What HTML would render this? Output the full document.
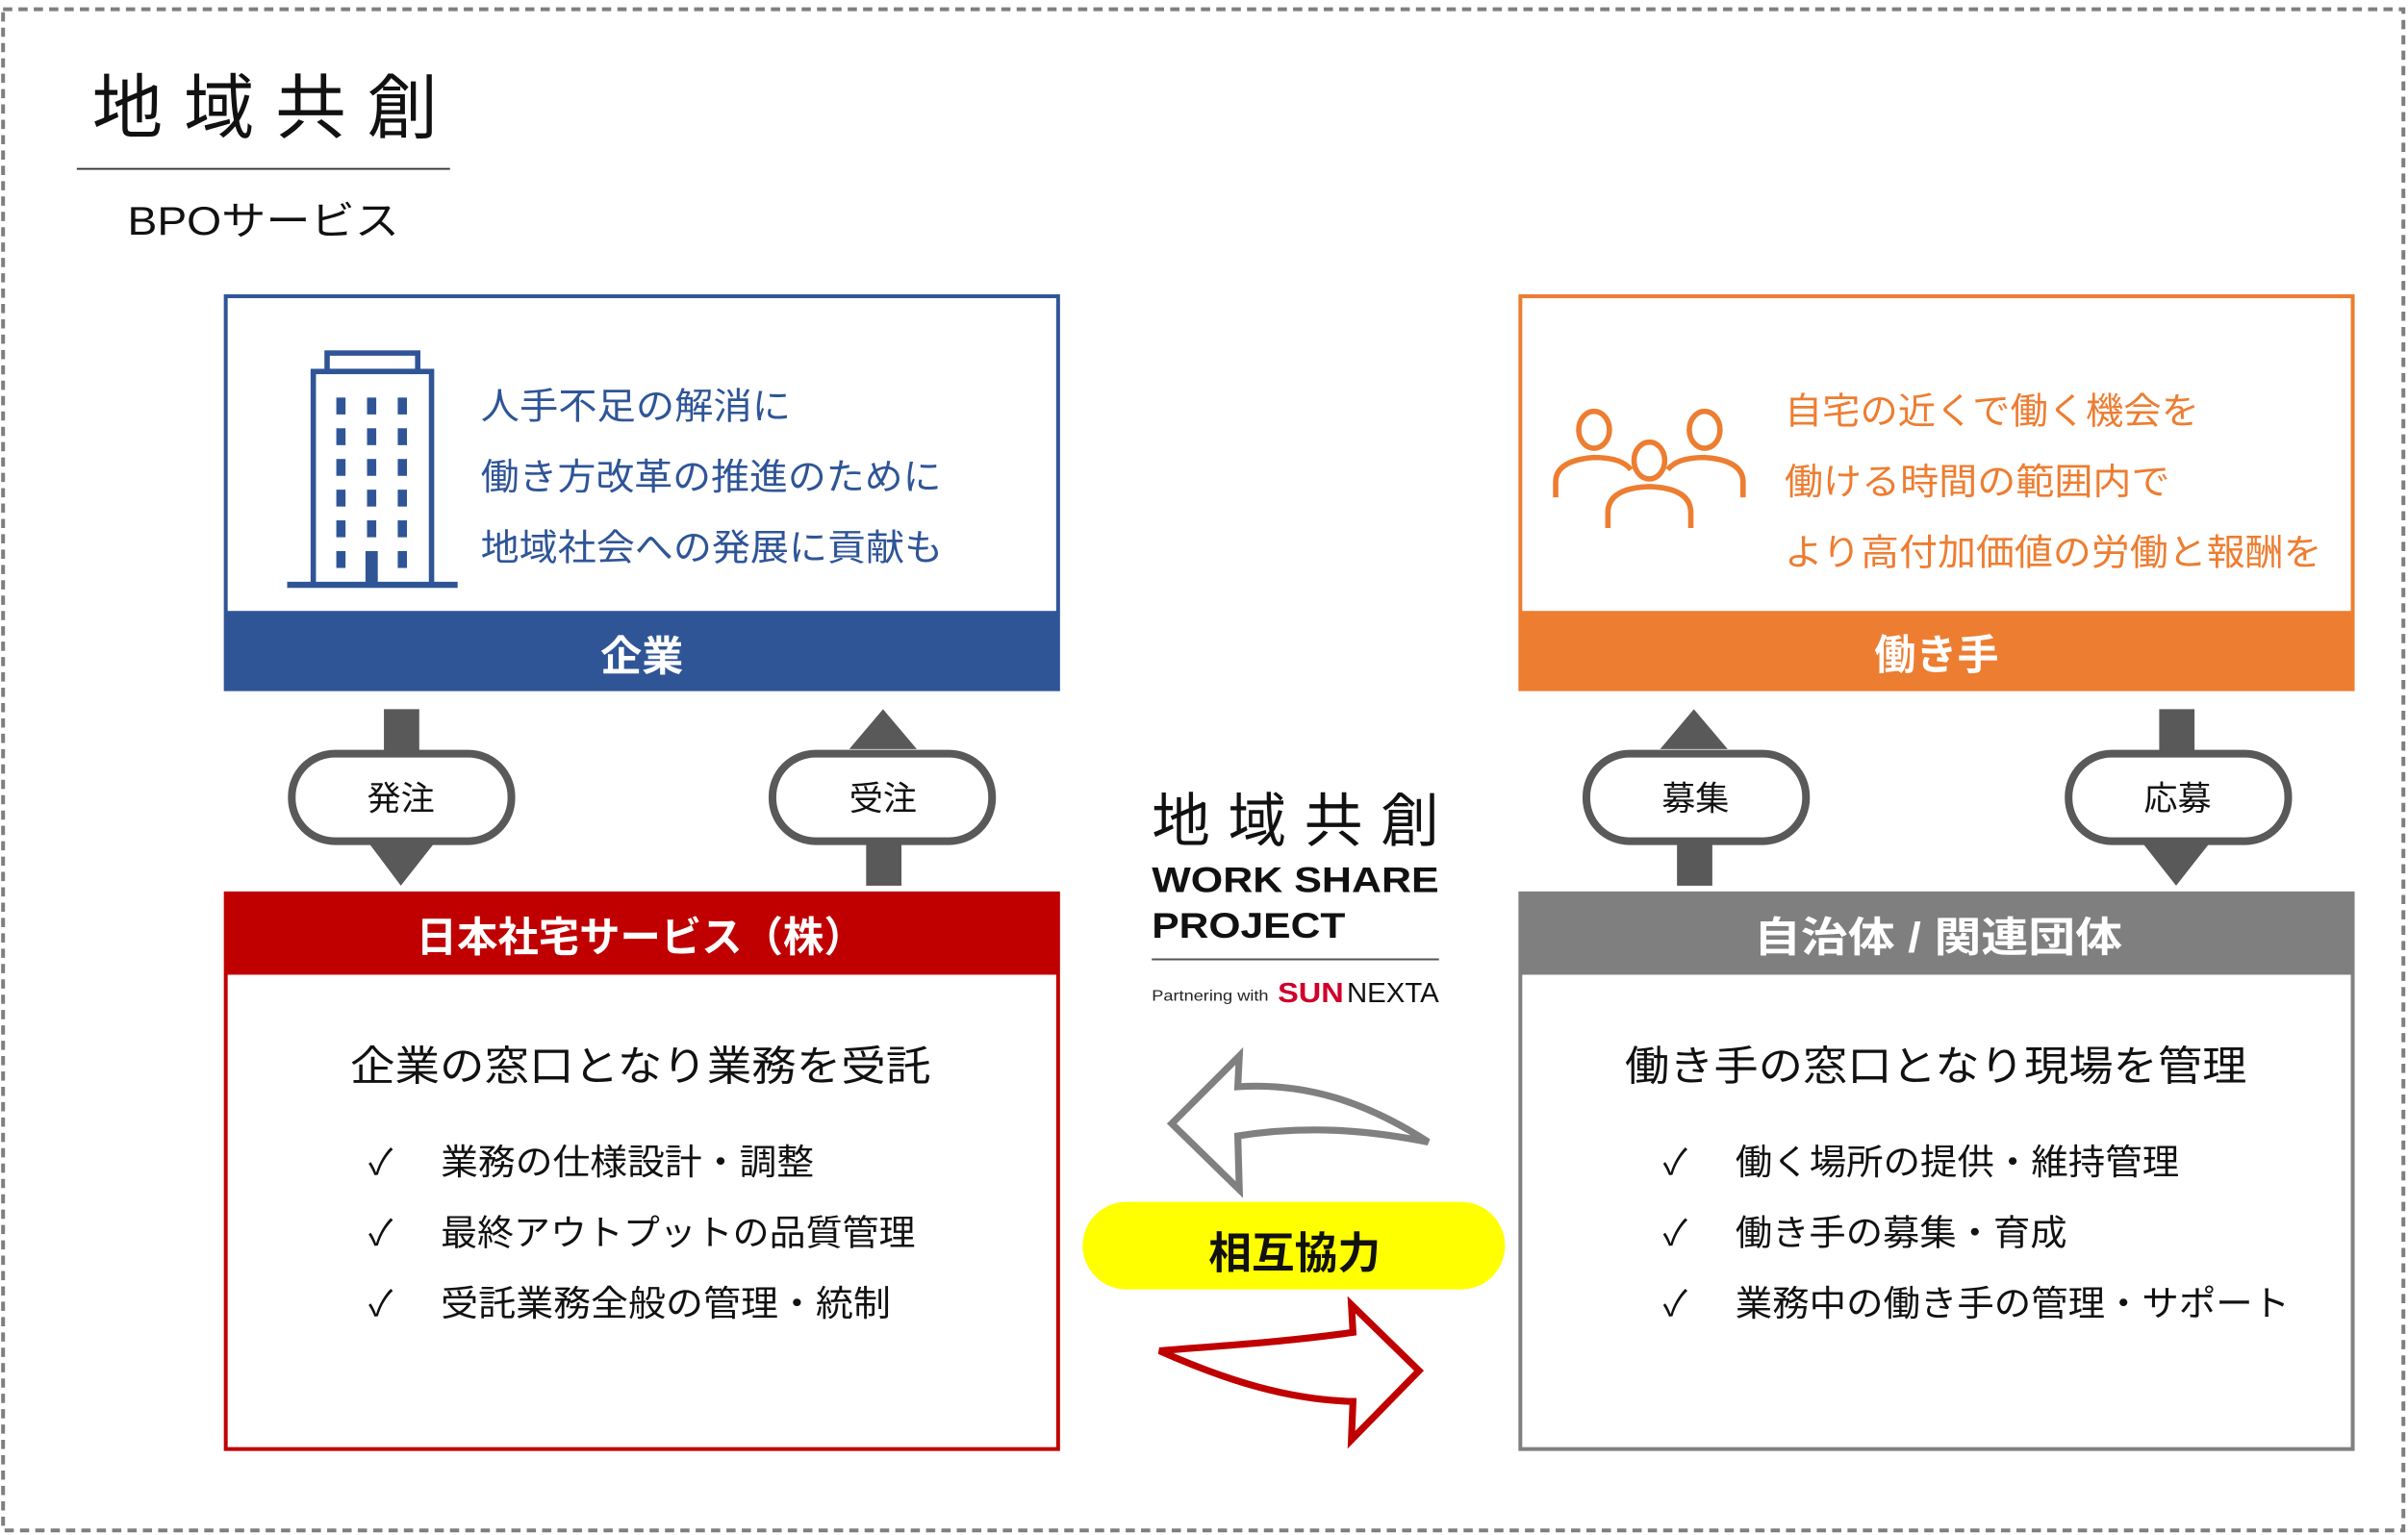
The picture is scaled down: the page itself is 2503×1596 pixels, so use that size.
<!DOCTYPE html>
<html><head><meta charset="utf-8">
<style>
html,body{margin:0;padding:0;background:#fff;}
svg{display:block;}
text{font-family:"Liberation Sans","Noto Sans CJK JP",sans-serif;}
</style></head>
<body>
<svg width="2503" height="1596" viewBox="0 0 1568 1000" preserveAspectRatio="none" xmlns="http://www.w3.org/2000/svg">
<rect x="0" y="0" width="1568" height="1000" fill="#fff"/>
<rect x="2" y="6" width="1563" height="991" fill="none" stroke="#7f7f7f" stroke-width="2.5" stroke-dasharray="6,4"/>

<text x="60" y="86" font-size="46" fill="#111" textLength="225" lengthAdjust="spacing">地域共創</text>
<line x1="50" y1="110" x2="293" y2="110" stroke="#333" stroke-width="1.2"/>
<text x="83" y="153" font-size="26" fill="#111" textLength="177" lengthAdjust="spacingAndGlyphs">BPOサービス</text>

<rect x="147" y="193" width="542" height="256" fill="#fff" stroke="#2f5597" stroke-width="2.5"/>
<rect x="146" y="398" width="544" height="52" fill="#2f5597"/>
<text x="418" y="437" font-size="27" font-weight="bold" fill="#fff" text-anchor="middle">企業</text>
<g fill="#2f5597" font-size="24">
<text x="313" y="273" textLength="202" lengthAdjust="spacingAndGlyphs">人手不足の解消に</text>
<text x="313" y="319" textLength="300" lengthAdjust="spacingAndGlyphs">働き方改革の推進のために</text>
<text x="313" y="365" textLength="301" lengthAdjust="spacingAndGlyphs">地域社会への発展に貢献も</text>
</g>
<g stroke="#2f5597" stroke-width="3.5" fill="none">
<rect x="213" y="230" width="59" height="12"/>
<rect x="204" y="242" width="77" height="139"/>
<line x1="187" y1="381" x2="298" y2="381" stroke-width="4"/>
</g>
<g fill="#2f5597">
<rect x="219" y="259" width="6" height="11"/><rect x="239" y="259" width="6" height="11"/><rect x="259" y="259" width="6" height="11"/>
<rect x="219" y="279" width="6" height="11"/><rect x="239" y="279" width="6" height="11"/><rect x="259" y="279" width="6" height="11"/>
<rect x="219" y="299" width="6" height="11"/><rect x="239" y="299" width="6" height="11"/><rect x="259" y="299" width="6" height="11"/>
<rect x="219" y="319" width="6" height="11"/><rect x="239" y="319" width="6" height="11"/><rect x="259" y="319" width="6" height="11"/>
<rect x="219" y="339" width="6" height="11"/><rect x="239" y="339" width="6" height="11"/><rect x="259" y="339" width="6" height="11"/>
<rect x="219" y="359" width="6" height="11"/><rect x="238" y="359" width="8" height="22"/><rect x="259" y="359" width="6" height="11"/>
</g>

<rect x="990" y="193" width="542" height="256" fill="#fff" stroke="#ed7d31" stroke-width="2.5"/>
<rect x="989" y="398" width="544" height="52" fill="#ed7d31"/>
<text x="1261" y="436" font-size="27" font-weight="bold" fill="#fff" text-anchor="middle">働き手</text>
<g fill="#ed7d31" font-size="24">
<text x="1162" y="276" textLength="270" lengthAdjust="spacingAndGlyphs">自宅の近くで働く機会を</text>
<text x="1162" y="322" textLength="251" lengthAdjust="spacingAndGlyphs">働ける時間の範囲内で</text>
<text x="1162" y="368" textLength="350" lengthAdjust="spacingAndGlyphs">より高付加価値の労働と報酬を</text>
</g>
<g stroke="#ed7d31" stroke-width="3.5" fill="none">
<ellipse cx="1038" cy="280" rx="10" ry="12"/>
<ellipse cx="1110" cy="280" rx="10" ry="12"/>
<ellipse cx="1074" cy="300" rx="10" ry="12"/>
<path d="M1013,324 L1013,314 Q1013,300 1038,298 Q1056,298 1062,306"/>
<path d="M1135,324 L1135,314 Q1135,300 1110,298 Q1092,298 1086,306"/>
<path d="M1047,344 L1047,334 Q1047,318 1074,317 Q1101,318 1101,334 L1101,344"/>
</g>

<g fill="#595959">
<rect x="250" y="462" width="23" height="30"/>
<polygon points="240,549 283,549 261,577"/>
<rect x="564" y="547" width="23" height="30"/>
<polygon points="553,488 597,488 575,462"/>
<rect x="1092" y="547" width="23" height="30"/>
<polygon points="1081,488 1125,488 1103,462"/>
<rect x="1406" y="462" width="23" height="30"/>
<polygon points="1395,549 1439,549 1417,577"/>
</g>
<g fill="#fff" stroke="#595959" stroke-width="5">
<rect x="190" y="491" width="143" height="57" rx="28"/>
<rect x="503" y="491" width="143" height="57" rx="28"/>
<rect x="1033" y="491" width="143" height="57" rx="28"/>
<rect x="1347" y="491" width="143" height="57" rx="28"/>
</g>
<g font-size="22" fill="#111" text-anchor="middle">
<text x="261" y="528">発注</text>
<text x="575" y="528">受注</text>
<text x="1104" y="528">募集</text>
<text x="1418" y="528">応募</text>
</g>

<rect x="147" y="582" width="542" height="362" fill="#fff" stroke="#c00000" stroke-width="2.5"/>
<rect x="146" y="581" width="544" height="54" fill="#c00000"/>
<text x="271" y="620" font-size="27" font-weight="bold" fill="#fff" textLength="292" lengthAdjust="spacingAndGlyphs">日本社宅サービス（株）</text>
<text x="228" y="704" font-size="27" fill="#111" textLength="378" lengthAdjust="spacingAndGlyphs">企業の窓口となり業務を受託</text>
<g font-size="23" fill="#111">
<text x="240" y="765">✓</text><text x="287" y="765" textLength="243" lengthAdjust="spacingAndGlyphs">業務の仕様設計・調整</text>
<text x="240" y="811">✓</text><text x="287" y="811" textLength="309" lengthAdjust="spacingAndGlyphs">最終アウトプットの品質管理</text>
<text x="240" y="857">✓</text><text x="287" y="857" textLength="293" lengthAdjust="spacingAndGlyphs">受託業務全般の管理・統制</text>
</g>

<rect x="990" y="582" width="542" height="362" fill="#fff" stroke="#808080" stroke-width="2.5"/>
<rect x="989" y="581" width="544" height="54" fill="#7f7f7f"/>
<text x="1142" y="620" font-size="27" font-weight="bold" fill="#fff" textLength="240" lengthAdjust="spacingAndGlyphs">自治体 / 関連団体</text>
<text x="1058" y="704" font-size="27" fill="#111" textLength="405" lengthAdjust="spacingAndGlyphs">働き手の窓口となり現場を管理</text>
<g font-size="23" fill="#111">
<text x="1083" y="765">✓</text><text x="1130" y="765" textLength="289" lengthAdjust="spacingAndGlyphs">働く場所の提供・維持管理</text>
<text x="1083" y="811">✓</text><text x="1130" y="811" textLength="216" lengthAdjust="spacingAndGlyphs">働き手の募集・育成</text>
<text x="1083" y="857">✓</text><text x="1130" y="857" textLength="361" lengthAdjust="spacingAndGlyphs">業務中の働き手の管理・サポート</text>
</g>

<text x="750" y="548" font-size="38" fill="#111" textLength="187" lengthAdjust="spacing">地域共創</text>
<text x="750" y="581" font-size="23" font-weight="bold" fill="#111" textLength="187" lengthAdjust="spacingAndGlyphs">WORK SHARE</text>
<text x="750" y="611" font-size="23" font-weight="bold" fill="#111" textLength="126" lengthAdjust="spacingAndGlyphs">PROJECT</text>
<line x1="750" y1="625" x2="937" y2="625" stroke="#555" stroke-width="1.2"/>
<text x="750" y="652" font-size="10" fill="#222" textLength="76" lengthAdjust="spacingAndGlyphs">Partnering with</text>
<text x="832" y="653" font-size="18" font-weight="bold" fill="#d0002a" textLength="43" lengthAdjust="spacingAndGlyphs">SUN</text>
<text x="877" y="653" font-size="18" fill="#111" textLength="60" lengthAdjust="spacingAndGlyphs">NEXTA</text>

<path d="M763,732 L807,688 L806,708 C850,705 890,718 930,744 C890,736 850,733 806,740 L807,775 Z" fill="#fff" stroke="#808080" stroke-width="4.5" stroke-linejoin="miter"/>
<rect x="705" y="783" width="275" height="57" rx="28.5" fill="#ffff00"/>
<text x="843" y="826" font-size="28" font-weight="bold" fill="#111" text-anchor="middle">相互協力</text>
<path d="M924,893 L880,850 L881,868 C830,875 790,877 755,880 C800,900 840,912 881,913 L880,938 Z" fill="#fff" stroke="#c00000" stroke-width="4.5"/>
</svg>
</body></html>
